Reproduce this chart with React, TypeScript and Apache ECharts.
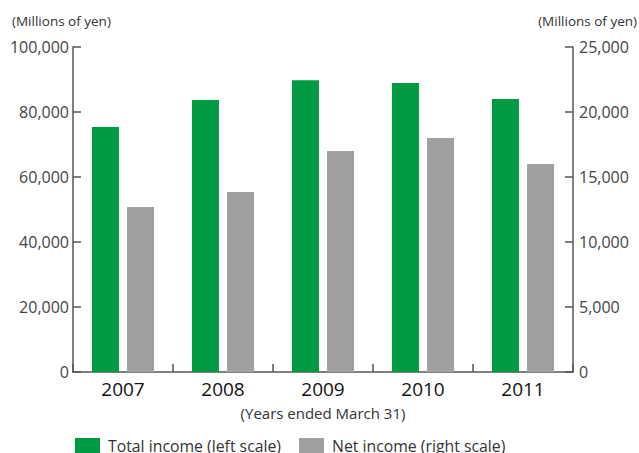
import React, { useEffect, useRef } from "react";
import * as echarts from "echarts";

const years = ["2007", "2008", "2009", "2010", "2011"];
const totalIncome = [75400, 83700, 89800, 88900, 84000];
const netIncome = [12700, 13850, 17000, 18000, 16000];
const leftTicks = { min: 0, max: 100000, interval: 20000 };
const rightTicks = { min: 0, max: 25000, interval: 5000 };

const FONT = "'Open Sans', 'Noto Sans', sans-serif";
const fmt = (v: number) => v.toLocaleString("en-US");

export default function App() {
  const ref = useRef<HTMLDivElement>(null);
  useEffect(() => {
    if (!ref.current) return;
    const chart = echarts.init(ref.current, undefined, { renderer: "svg" });
    const axisColor = "#555555";
    chart.setOption({
      animation: false,
      textStyle: { fontFamily: FONT },
      grid: { left: 73, right: 66, top: 47, bottom: 81, containLabel: false },
      legend: {
        left: 75,
        top: 438,
        padding: 0,
        itemWidth: 25,
        itemHeight: 16,
        itemGap: 18,
        icon: "rect",
        textStyle: { fontSize: 15.8, color: "#333", fontFamily: FONT, padding: [0, 0, 0, 3] },
        data: ["Total income (left scale)", "Net income (right scale)"],
      },
      graphic: [
        { type: "text", left: 12, top: 14, style: { text: "(Millions of yen)", fontSize: 13.5, fill: "#333", fontFamily: FONT } },
        { type: "text", right: 2, top: 14, style: { text: "(Millions of yen)", fontSize: 13.5, fill: "#333", fontFamily: FONT } },
      ],
      xAxis: {
        type: "category",
        data: years,
        name: "(Years ended March 31)",
        nameLocation: "middle",
        nameGap: 33,
        nameTextStyle: { fontSize: 15, color: "#333", fontFamily: FONT },
        axisLine: { lineStyle: { color: axisColor, width: 1.5 } },
        axisTick: { show: true, inside: true, length: 8, lineStyle: { color: axisColor, width: 1.5 } },
        axisLabel: { fontSize: 19, color: "#111", margin: 7, fontFamily: FONT },
      },
      yAxis: [
        {
          type: "value",
          ...leftTicks,
          splitLine: { show: false },
          axisLine: { show: true, lineStyle: { color: axisColor, width: 1.5 } },
          axisTick: { show: true, inside: true, length: 8, lineStyle: { color: axisColor, width: 1.5 } },
          axisLabel: { fontSize: 16, color: "#444", margin: 4, formatter: fmt, fontFamily: FONT },
        },
        {
          type: "value",
          ...rightTicks,
          splitLine: { show: false },
          axisLine: { show: true, lineStyle: { color: axisColor, width: 1.5 } },
          axisTick: { show: true, inside: true, length: 8, lineStyle: { color: axisColor, width: 1.5 } },
          axisLabel: { fontSize: 16, color: "#444", margin: 6, formatter: fmt, fontFamily: FONT },
        },
      ],
      series: [
        {
          name: "Total income (left scale)",
          type: "bar",
          yAxisIndex: 0,
          data: totalIncome,
          barWidth: "27%",
          barGap: "30%",
          itemStyle: { color: "#009944" },
        },
        {
          name: "Net income (right scale)",
          type: "bar",
          yAxisIndex: 1,
          data: netIncome,
          barWidth: "27%",
          itemStyle: { color: "#a0a0a0" },
        },
      ],
    });
    return () => chart.dispose();
  }, []);
  return <div ref={ref} style={{ width: 639, height: 453, position: "absolute", left: 0, top: 0 }} />;
}
